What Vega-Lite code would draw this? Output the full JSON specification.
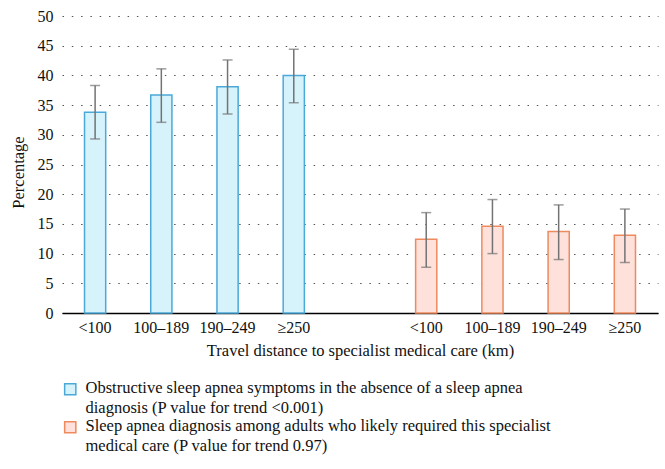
{
  "$schema": "https://vega.github.io/schema/vega-lite/v6.json",
  "width": 596,
  "height": 297,
  "autosize": {"type": "none"},
  "padding": {"left": 62, "top": 16, "right": 7, "bottom": 156},
  "background": "white",
  "config": {
    "font": "Liberation Serif, DejaVu Serif, serif",
    "view": {"stroke": null},
    "axis": {"labelFont": "Liberation Serif, DejaVu Serif, serif", "titleFont": "Liberation Serif, DejaVu Serif, serif", "labelColor": "#111", "titleColor": "#111", "labelFontSize": 16, "titleFontSize": 16.5, "titleFontWeight": "normal"},
    "legend": {"labelFont": "Liberation Serif, DejaVu Serif, serif", "labelFontSize": 16.5, "labelColor": "#111"}
  },
  "data": {
    "values": [
      {"slot": "S1 <100", "series": "Obstructive sleep apnea symptoms", "pct": 33.8, "lo": 29.3, "hi": 38.3},
      {"slot": "S2 100–189", "series": "Obstructive sleep apnea symptoms", "pct": 36.7, "lo": 32.1, "hi": 41.1},
      {"slot": "S3 190–249", "series": "Obstructive sleep apnea symptoms", "pct": 38.1, "lo": 33.5, "hi": 42.6},
      {"slot": "S4 ≥250", "series": "Obstructive sleep apnea symptoms", "pct": 40.0, "lo": 35.4, "hi": 44.4},
      {"slot": "S6 <100", "series": "Sleep apnea diagnosis", "pct": 12.4, "lo": 7.7, "hi": 16.9},
      {"slot": "S7 100–189", "series": "Sleep apnea diagnosis", "pct": 14.6, "lo": 10.0, "hi": 19.1},
      {"slot": "S8 190–249", "series": "Sleep apnea diagnosis", "pct": 13.7, "lo": 9.0, "hi": 18.2},
      {"slot": "S9 ≥250", "series": "Sleep apnea diagnosis", "pct": 13.1, "lo": 8.5, "hi": 17.5}
    ]
  },
  "encoding": {
    "x": {
      "field": "slot", "type": "nominal",
      "scale": {"domain": ["S1 <100", "S2 100–189", "S3 190–249", "S4 ≥250", "S5", "S6 <100", "S7 100–189", "S8 190–249", "S9 ≥250"], "paddingInner": 0.68, "paddingOuter": 0.34},
      "axis": {"title": "Travel distance to specialist medical care (km)", "labelAngle": 0, "labelExpr": "substring(datum.value, 3)", "ticks": false, "domainColor": "#000", "domainWidth": 1.5, "labelPadding": 6, "titlePadding": 7, "labelLimit": 200}
    }
  },
  "resolve": {"axis": {"y": "independent"}},
  "layer": [
    {
      "mark": {"type": "bar", "strokeWidth": 1.5},
      "encoding": {
        "y": {
          "field": "pct", "type": "quantitative",
          "scale": {"domain": [0, 50], "nice": false},
          "axis": {"title": "Percentage", "titleY": 156, "values": [0,5,10,15,20,25,30,35,40,45,50], "domain": false, "ticks": false, "labelPadding": 9, "titlePadding": 11, "gridColor": "#555", "gridDash": [1.5, 7.8], "gridWidth": 1}
        },
        "fill": {
          "field": "series", "type": "nominal",
          "scale": {"domain": ["Obstructive sleep apnea symptoms", "Sleep apnea diagnosis"], "range": ["#d6f2fb", "#fde1da"]},
          "legend": {
            "title": null, "orient": "none", "legendX": 0, "legendY": 365, "direction": "vertical",
            "symbolType": "square", "symbolSize": 125, "symbolStrokeWidth": 1.5, "labelLimit": 620, "rowPadding": 1, "labelOffset": 7,
            "labelFont": "Liberation Serif, DejaVu Serif, serif", "labelFontSize": 16.5,
            "labelExpr": "datum.value == 'Obstructive sleep apnea symptoms' ? ['Obstructive sleep apnea symptoms in the absence of a sleep apnea', 'diagnosis (P value for trend <0.001)'] : ['Sleep apnea diagnosis among adults who likely required this specialist', 'medical care (P value for trend 0.97)']",
            "encoding": {
              "labels": {"lineHeight": {"value": 20}, "baseline": {"value": "top"}, "dy": {"value": -9}}
            }
          }
        },
        "stroke": {
          "field": "series", "type": "nominal",
          "scale": {"domain": ["Obstructive sleep apnea symptoms", "Sleep apnea diagnosis"], "range": ["#4ba9d9", "#ef8a5e"]},
          "legend": null
        }
      }
    },
    {
      "mark": {"type": "rule", "color": "#737373", "strokeWidth": 1.5},
      "encoding": {"y": {"field": "lo", "type": "quantitative", "axis": null}, "y2": {"field": "hi"}}
    },
    {
      "mark": {"type": "tick", "color": "#737373", "thickness": 1.5, "size": 10},
      "encoding": {"y": {"field": "lo", "type": "quantitative", "axis": null}}
    },
    {
      "mark": {"type": "tick", "color": "#737373", "thickness": 1.5, "size": 10},
      "encoding": {"y": {"field": "hi", "type": "quantitative", "axis": null}}
    }
  ]
}
